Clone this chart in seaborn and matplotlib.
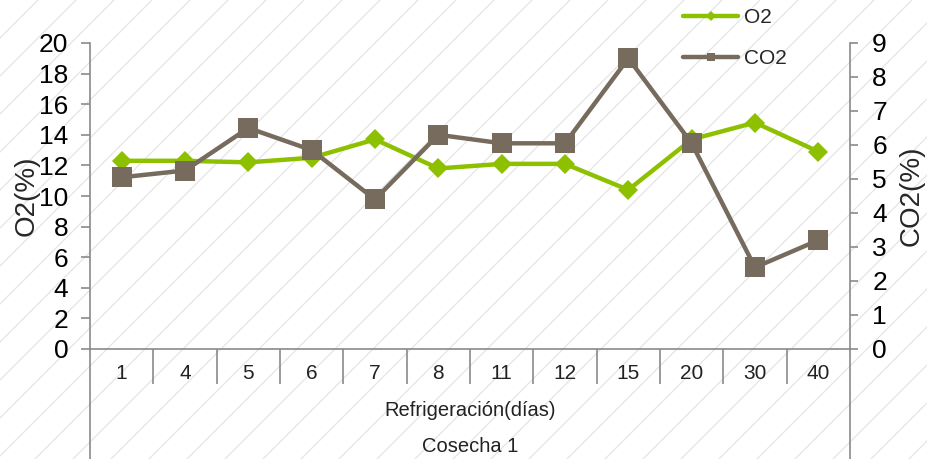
import matplotlib
matplotlib.use("Agg")
import matplotlib.pyplot as plt
import seaborn as sns
import pandas as pd
import numpy as np
from matplotlib.lines import Line2D

# ---- data ----
dias = ["1", "4", "5", "6", "7", "8", "11", "12", "15", "20", "30", "40"]
o2 = [12.3, 12.3, 12.2, 12.5, 13.7, 11.8, 12.1, 12.1, 10.4, 13.7, 14.8, 12.9]
co2 = [5.05, 5.25, 6.5, 5.85, 4.4, 6.3, 6.05, 6.05, 8.55, 6.05, 2.4, 3.2]
o2_ticks = list(range(0, 21, 2))
co2_ticks = list(range(0, 10))

GREEN = "#8DC100"
BROWN = "#766B5D"
SPINE = "#8a8a8a"

sns.set_theme(style="white")
plt.rcParams['font.family'] = ['Liberation Sans', 'DejaVu Sans']

W, H = 928, 459
fig = plt.figure(figsize=(W / 100, H / 100), dpi=100)
fig.patch.set_facecolor("white")

# diagonal hatch background (decoration)
slope = 1.0
spacing = 38
for c in np.arange(-H / slope - spacing, W + spacing, spacing):
    x0, y0 = c, 0
    x1, y1 = c + H / slope, H
    fig.add_artist(Line2D([x0 / W, x1 / W], [y0 / H, y1 / H], transform=fig.transFigure,
                          color="#e4e4e4", lw=0.9, zorder=0))

left, right_px, top, bottom = 90, 850, 43, 349
ax = fig.add_axes([left / W, 1 - bottom / H, (right_px - left) / W, (bottom - top) / H])
ax.patch.set_alpha(0)
ax2 = ax.twinx()
ax2.patch.set_alpha(0)

df = pd.DataFrame({"dias": dias, "O2": o2, "CO2": co2})

sns.lineplot(data=df, x="dias", y="O2", ax=ax, sort=False, color=GREEN, lw=3.2,
             marker="D", markersize=10.5, markeredgewidth=0, label="O2", legend=False)
sns.lineplot(data=df, x="dias", y="CO2", ax=ax2, sort=False, color=BROWN, lw=3.2,
             marker="s", markersize=14, markeredgewidth=0, label="CO2", legend=False)

ax.set_xlim(-0.5, len(dias) - 0.5)
ax.set_ylim(0, 20)
ax2.set_ylim(0, 9)
ax.set_yticks(o2_ticks)
ax2.set_yticks(co2_ticks)
ax.set_xticks(range(len(dias)))
ax.set_xticklabels(dias)
ax.set_xticks(np.arange(0.5, len(dias) - 1, 1), minor=True)

for a in (ax, ax2):
    a.grid(False)
    for s in a.spines.values():
        s.set_visible(False)

ax.spines["left"].set_visible(True)
ax.spines["bottom"].set_visible(True)
ax2.spines["right"].set_visible(True)
for s in (ax.spines["left"], ax.spines["bottom"], ax2.spines["right"]):
    s.set_color(SPINE)
    s.set_linewidth(1.2)

ax.tick_params(axis="y", which="major", left=True, length=6.5, width=1.2, color=SPINE,
               pad=9, labelsize=19, labelcolor="black")
ax2.tick_params(axis="y", which="major", right=True, length=6, width=1.2, color=SPINE,
                pad=10, labelsize=19, labelcolor="black")
ax.tick_params(axis="x", which="major", bottom=True, length=0, pad=11, labelsize=15,
               labelcolor="#222222")
ax.tick_params(axis="x", which="minor", bottom=True, length=25, width=1.2, color=SPINE)

ax.set_xlabel("")
ax.set_ylabel("O2(%)", fontsize=20)
ax2.set_ylabel("CO2(%)", fontsize=20)
ax.yaxis.set_label_coords(-50 / (right_px - left), 0.5)
ax2.yaxis.set_label_coords(1 + 49 / (right_px - left), 0.5)

# spines extending down through the category-label area
for xf in (0, 1):
    ax.add_line(Line2D([xf, xf], [0, -(H - bottom) / (bottom - top)], transform=ax.transAxes,
                       color=SPINE, lw=1.2, clip_on=False))

cx = (left + right_px) / 2 / W
fig.text(cx, 1 - 411 / H, "Refrigeración(días)", ha="center", va="center", fontsize=14.5,
         color="#222222")
fig.text(cx, 1 - 447 / H, "Cosecha 1", ha="center", va="center", fontsize=14.5,
         color="#222222")

handles = [ax.get_lines()[0], ax2.get_lines()[0]]
fig.legend(handles, ["O2", "CO2"], loc="upper left", bbox_to_anchor=(683 / W, 1 - 8 / H),
           frameon=False, fontsize=15, markerscale=0.45, handlelength=2.65, handletextpad=0.3,
           labelspacing=1.05, borderpad=0, borderaxespad=0)

fig.savefig("out.png", dpi=100, facecolor="white")
